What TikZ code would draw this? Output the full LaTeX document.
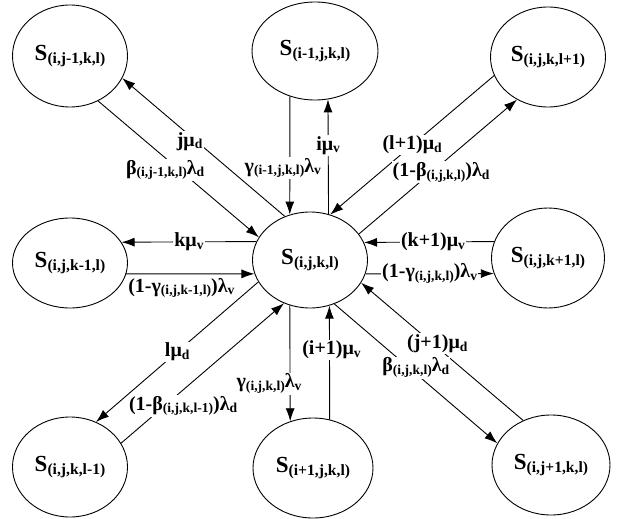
\documentclass[tikz,border=0pt]{standalone}
\usepackage{fontspec}
\setmainfont{Liberation Serif}
\usetikzlibrary{shapes.geometric}
\usetikzlibrary{arrows.meta}
\tikzset{>={Latex[length=13pt,width=9pt]}}
\tikzset{state/.style={ellipse, draw, line width=0.9pt, minimum width=115pt, minimum height=98pt, inner sep=0pt, font=\fontsize{23}{26}\selectfont\bfseries}}
\tikzset{rate/.style={fill=white, inner sep=1.2pt, font=\fontsize{20}{22}\selectfont\bfseries}}
\tikzset{flow/.style={->, line width=0.9pt}}
\newcommand{\lo}[1]{\raisebox{-0.3ex}{\scalebox{0.68}{#1}}}

\begin{document}
\begin{tikzpicture}[x=1pt, y=-1pt]
    \useasboundingbox (0,0) rectangle (621,519);

    % Nodes
    \node [state, minimum height=102pt] (snw) at (70,56) {S\lo{(i,j-1,k,l)}};
    \node [state, minimum width=126pt] (sn) at (315,51) {S\lo{(i-1,j,k,l)}};
    \node [state, minimum height=100pt] (sne) at (548,57) {S\lo{(i,j,k,l+1)}};
    \node [state, minimum height=90pt] (sw) at (70,263) {S\lo{(i,j,k-1,l)}};
    \node [state, minimum height=96pt] (sc) at (310,260) {S\lo{(i,j,k,l)}};
    \node [state, minimum width=113pt, minimum height=100pt] (se) at (548,258) {S\lo{(i,j,k+1,l)}};
    \node [state, minimum height=100pt] (ssw) at (70,467) {S\lo{(i,j,k,l-1)}};
    \node [state, minimum width=120pt, minimum height=100pt] (ss) at (313,468) {S\lo{(i+1,j,k,l)}};
    \node [state, minimum width=118pt, minimum height=100pt] (sse) at (551,465) {S\lo{(i,j+1,k,l)}};

    % Arrows between nodes
    \draw [flow] (sc.120) -- node [rate, pos=0.586, yshift=-6pt] {jμ\lo{d}} (snw.-23);
    \draw [flow] (snw.-58) -- node [rate, pos=0.417, yshift=-12pt] {β\lo{(i,j-1,k,l)}λ\lo{d}} (sc.156);
    \draw [flow] (sn.-119) -- node [rate, pos=0.605, xshift=-7pt] {γ\lo{(i-1,j,k,l)}λ\lo{v}} (sc.114);
    \draw [flow] (sc.68.5) -- node [rate, pos=0.6] {iμ\lo{v}} (sn.-75);
    \draw [flow] (sne.-161) -- node [rate, pos=0.5] {(l+1)μ\lo{d}} (sc.66);
    \draw [flow] (sc.28) -- node [rate, pos=0.52, yshift=-8pt] {(1-β\lo{(i,j,k,l)})λ\lo{d}} (sne.-126);
    \draw [flow] (sc.161.3) -- node [rate, pos=0.5] {kμ\lo{v}} (sw.22.4);
    \draw [flow] (sw.-11.2) -- node [rate, pos=0.43, yshift=-14pt] {(1-γ\lo{(i,j,k-1,l)})λ\lo{v}} (sc.194.3);
    \draw [flow] (se.163.4) -- node [rate, pos=0.47] {(k+1)μ\lo{v}} (sc.18.7);
    \draw [flow] (sc.-14.3) -- node [rate, pos=0.5] {(1-γ\lo{(i,j,k,l)})λ\lo{v}} (se.196.6);
    \draw [flow] (sc.-157) -- node [rate, pos=0.5] {lμ\lo{d}} (ssw.60);
    \draw [flow] (ssw.25) -- node [rate, pos=0.381, yshift=-16pt] {(1-β\lo{(i,j,k,l-1)})λ\lo{d}} (sc.-121);
    \draw [flow] (sc.-114) -- node [rate, pos=0.676, xshift=-21pt] {γ\lo{(i,j,k,l)}λ\lo{v}} (ss.116.5);
    \draw [flow] (ss.71.6) -- node [rate, pos=0.61, xshift=2pt] {(i+1)μ\lo{v}} (sc.-67.2);
    \draw [flow] (sse.122) -- node [rate, pos=0.53, yshift=4pt] {(j+1)μ\lo{d}} (sc.-24);
    \draw [flow] (sc.-61) -- node [rate, pos=0.5, yshift=6pt] {β\lo{(i,j,k,l)}λ\lo{d}} (sse.158);

\end{tikzpicture}
\end{document}
